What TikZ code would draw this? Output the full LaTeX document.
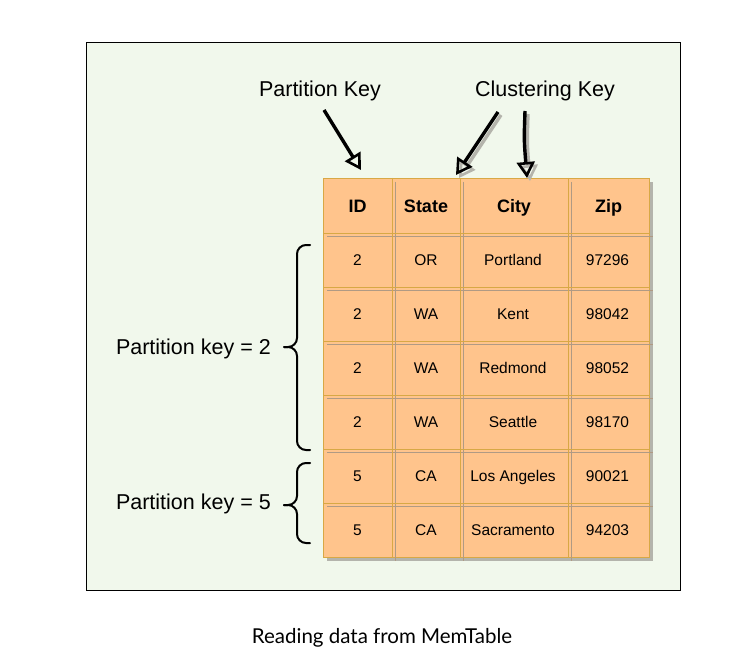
\documentclass[tikz,border=0pt]{standalone}
\usepackage{fontspec}
\setmainfont{Liberation Sans}
\newfontfamily\capfont{Lato}
\usetikzlibrary{arrows.meta}
\definecolor{bggreen}{HTML}{F1F8EC}
\definecolor{cellfill}{HTML}{FFC48C}
\definecolor{cellline}{HTML}{D8A845}
\definecolor{shadowgray}{HTML}{B4B4AC}
\definecolor{gridgray}{HTML}{B09A84}
\tikzset{
  hdr/.style={font=\fontsize{18}{20}\selectfont\bfseries, inner sep=0pt, text height=12.9pt, text depth=0pt},
  dat/.style={font=\fontsize{15.5}{18}\selectfont, inner sep=0pt, text height=11.1pt, text depth=0pt},
  lbl/.style={font=\fontsize{21.5}{24}\selectfont, inner sep=0pt, text height=15.4pt, text depth=0pt},
  keyarrow/.style={line width=3.4pt, -{Triangle[open,length=16pt,width=18pt,line width=2.6pt]}},
  arrowshadow/.style={line width=3.4pt, draw=shadowgray, -{Triangle[open,length=16pt,width=18pt,line width=2.6pt]}},
  bracestyle/.style={line width=2pt, line cap=round, rounded corners=9pt},
}
\begin{document}
\begin{tikzpicture}[x=1pt,y=-1pt]
\useasboundingbox (0,0) rectangle (733,663);
\fill[white] (0,0) rectangle (733,663);
% frame
\draw[fill=bggreen, line width=0.8pt] (86,42) rectangle (680,590);
% table shadow and fill
\fill[shadowgray] (327,182) rectangle (653,561);
\node[draw=cellline, fill=cellfill, line width=0.9pt, minimum width=326pt, minimum height=379pt, inner sep=0pt, anchor=north west] (tbl) at (323,178) {};
% grey offset grid lines
\foreach \x in {395,463,571} \draw[gridgray, line width=0.5pt] (\x,182) -- (\x,561);
\foreach \y in {236,290,344,398,452,506} \draw[gridgray, line width=0.5pt] (327,\y) -- (653,\y);
% golden grid lines
\foreach \x in {392,460,568} \draw[cellline, line width=0.9pt] (\x,178) -- (\x,557);
\foreach \y in {233,287,341,395,449,503} \draw[cellline, line width=0.9pt] (323,\y) -- (649,\y);
% header
\node[hdr] (hID) at (357.5,206) {ID};
\node[hdr] (hState) at (426,206) {State};
\node[hdr] (hCity) at (514,206) {City};
\node[hdr] (hZip) at (608.5,206) {Zip};
% data rows
\foreach \r/\yy/\id/\st/\ci/\zp in {1/260/2/OR/Portland/97296, 2/314/2/WA/Kent/98042, 3/368/2/WA/Redmond/98052, 4/422/2/WA/Seattle/98170, 5/476/5/CA/Los Angeles/90021, 6/530/5/CA/Sacramento/94203}{
  \node[dat] (id\r) at (357.5,\yy) {\id};
  \node[dat] (st\r) at (426,\yy) {\st};
  \node[dat] (ci\r) at (513,\yy) {\ci};
  \node[dat] (zp\r) at (607.5,\yy) {\zp};
}
% key labels
\node[lbl] (pkey) at (320,89) {Partition Key};
\node[lbl] (ckey) at (545,89) {Clustering Key};
\coordinate (pstart) at (324,110);
\coordinate (pend) at (361,170);
\coordinate (c1start) at (498,112);
\coordinate (c1end) at (456,175);
\coordinate (c2start) at (525,111);
\coordinate (c2end) at (527,178);
\coordinate (c1starts) at (501,115);
\coordinate (c1ends) at (459,178);
\coordinate (c2starts) at (528,114);
\coordinate (c2ends) at (530,181);
\draw[arrowshadow] (c1starts) -- (c1ends);
\draw[arrowshadow] (c2starts) .. controls (527,143) .. (c2ends);
\draw[keyarrow] (pstart) -- (pend);
\draw[keyarrow] (c1start) -- (c1end);
\draw[keyarrow] (c2start) .. controls (524,140) .. (c2end);
% braces
\coordinate (b1top) at (310,245);
\coordinate (b1tip) at (284,347);
\coordinate (b1bot) at (310,450);
\coordinate (b2top) at (310,463);
\coordinate (b2tip) at (284,505);
\coordinate (b2bot) at (310,543);
\draw[bracestyle] (b1top) -- (297,245) -- (297,347) -- (b1tip);
\draw[bracestyle] (b1bot) -- (297,450) -- (297,347) -- (b1tip);
\draw[bracestyle] (b2top) -- (297,463) -- (297,505) -- (b2tip);
\draw[bracestyle] (b2bot) -- (297,543) -- (297,505) -- (b2tip);
\node[lbl, anchor=east] (pk2) at (271,347) {Partition key = 2};
\node[lbl, anchor=east] (pk5) at (271,502) {Partition key = 5};
% caption
\node[font=\capfont\fontsize{20.5}{24}\selectfont, inner sep=0pt, text height=14.8pt, text depth=0pt] (cap) at (382,636) {Reading data from MemTable};
\end{tikzpicture}
\end{document}
